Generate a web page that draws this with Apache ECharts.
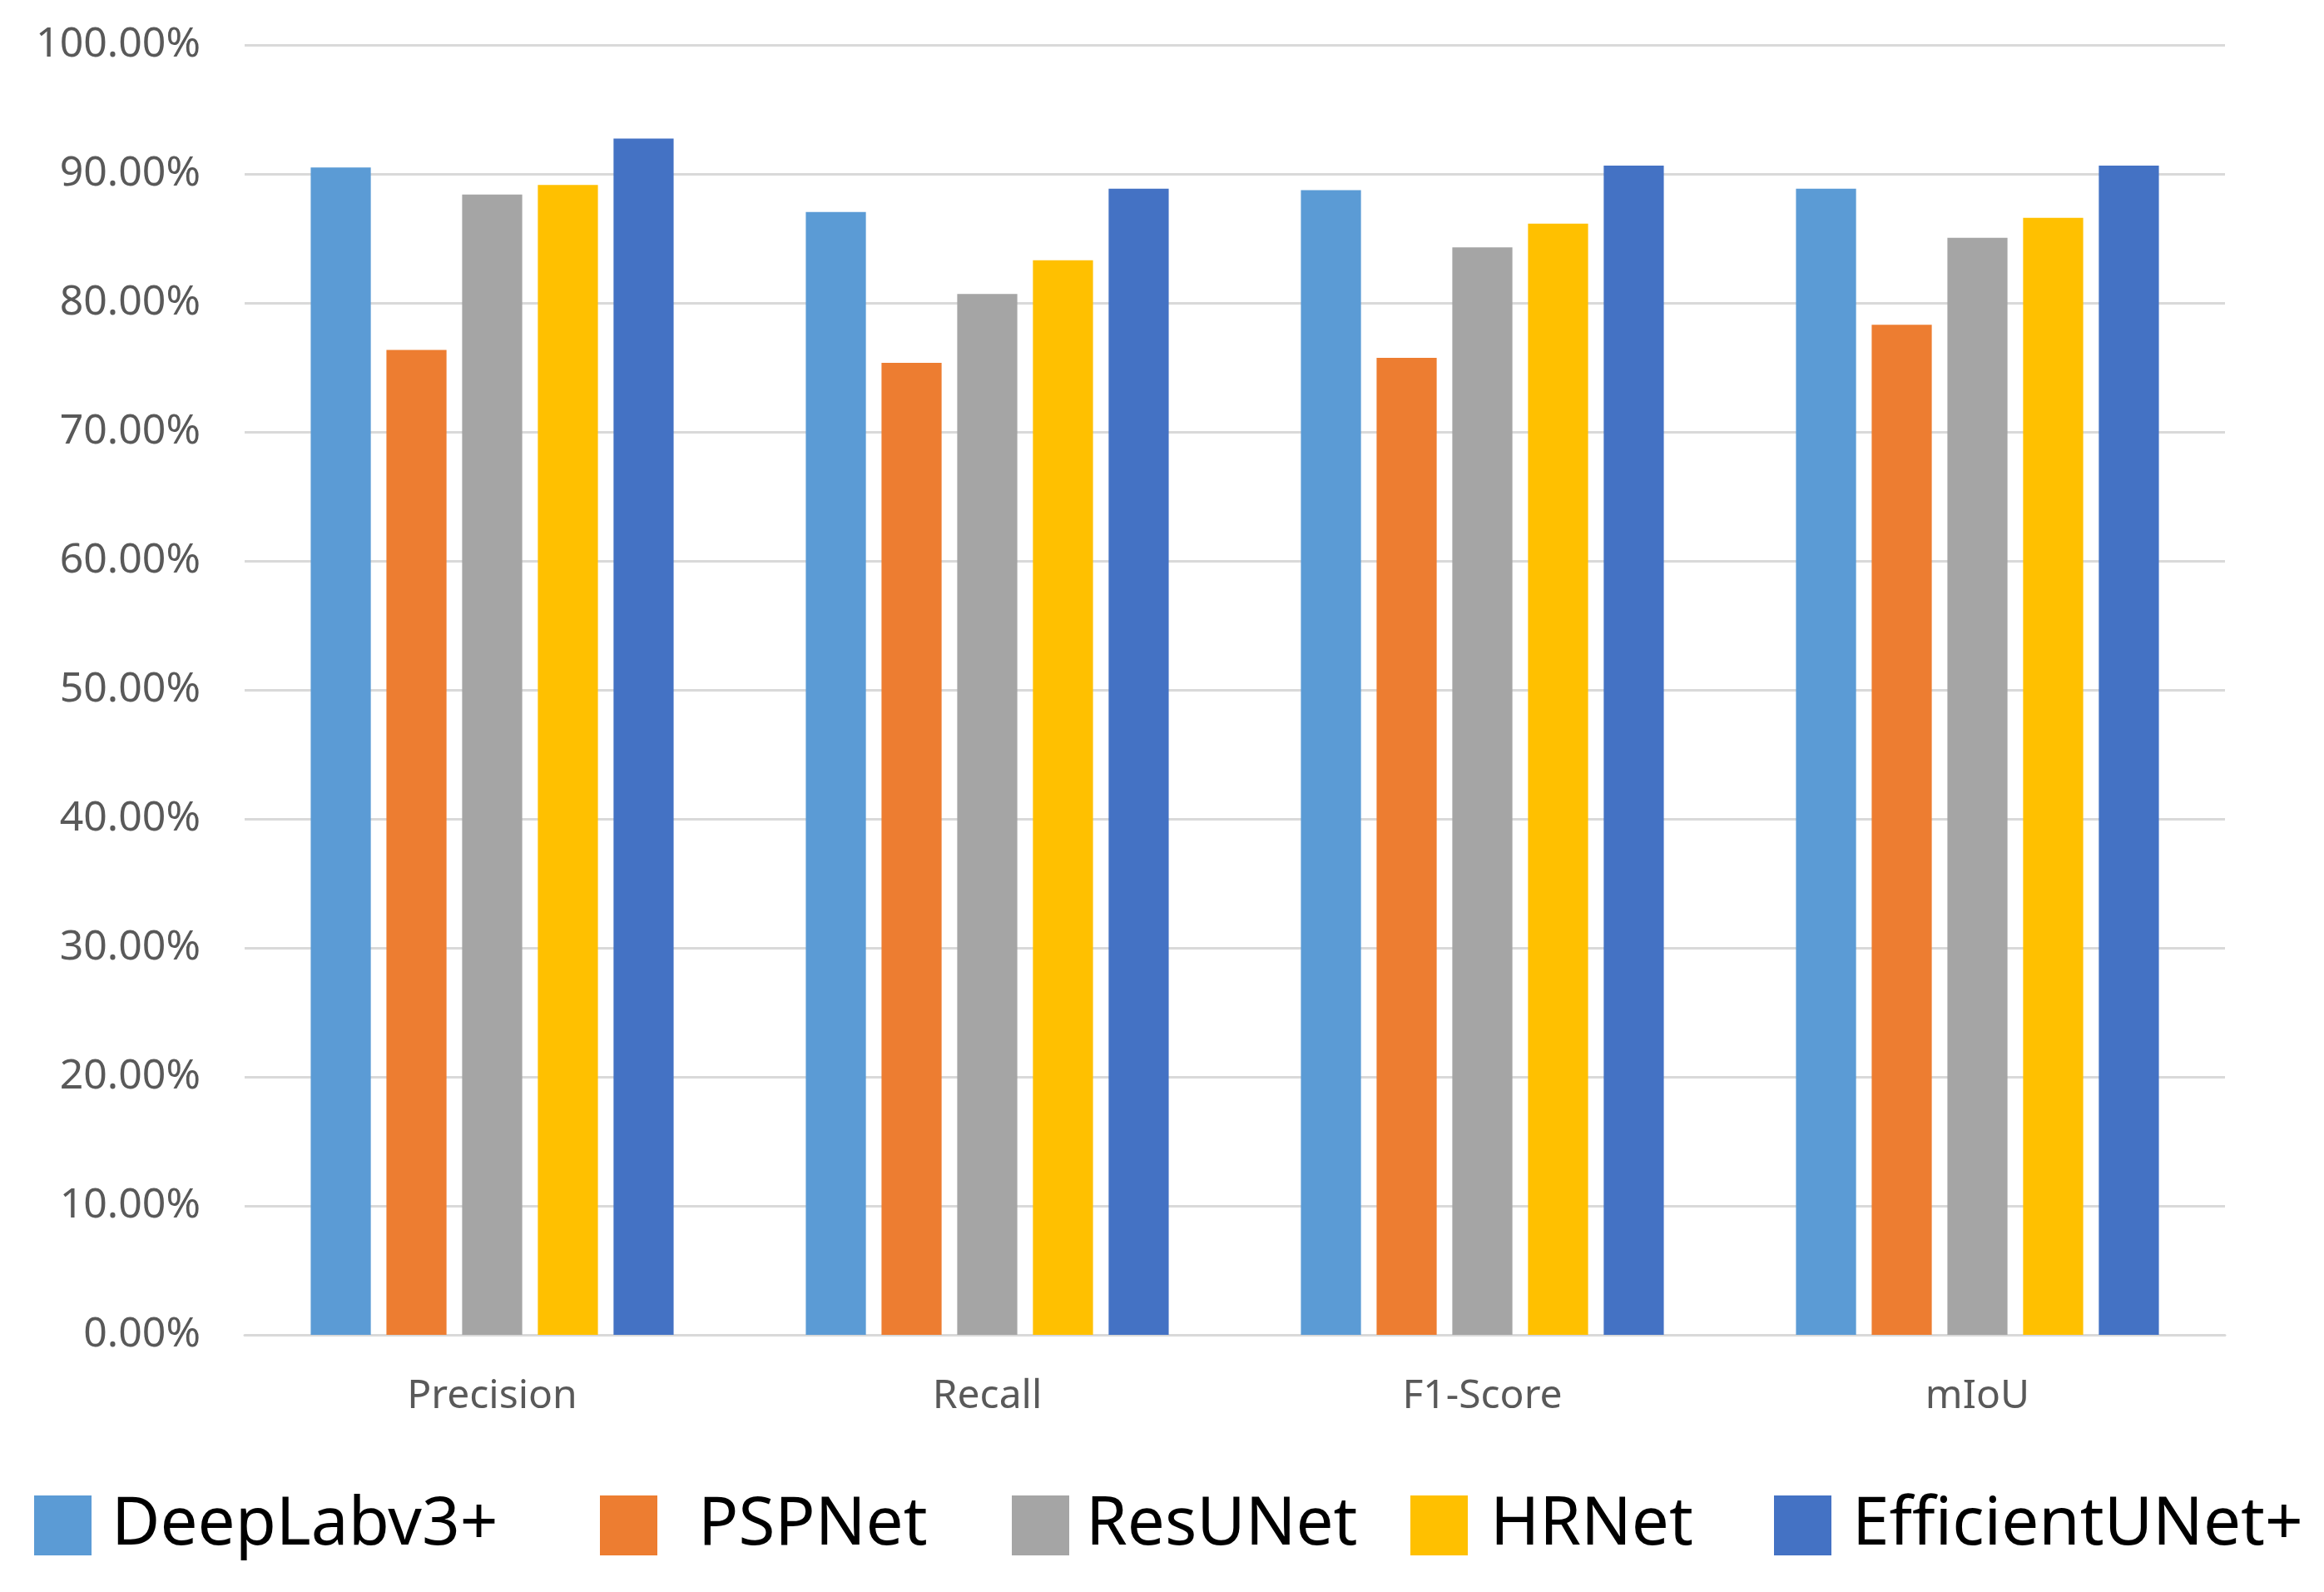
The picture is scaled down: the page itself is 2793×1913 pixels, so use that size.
<!DOCTYPE html>
<html>
<head>
<meta charset="utf-8">
<script src="https://cdn.jsdelivr.net/npm/echarts@6/dist/echarts.min.js"></script>
<style>
html,body{margin:0;padding:0;background:#fff;}
#chart{width:2793px;height:1913px;}
</style>
</head>
<body>
<div id="chart"></div>
<script>
const categories = ['Precision', 'Recall', 'F1-Score', 'mIoU'];
const seriesNames = ['DeepLabv3+', 'PSPNet', 'ResUNet', 'HRNet', 'EfficientUNet+'];
const deeplabv3 = [90.5, 87.05, 88.75, 88.85];
const pspnet = [76.35, 75.35, 75.75, 78.3];
const resunet = [88.4, 80.7, 84.3, 85.05];
const hrnet = [89.15, 83.3, 86.15, 86.6];
const efficientunet = [92.75, 88.85, 90.65, 90.65];
const yTicks = [0, 10, 20, 30, 40, 50, 60, 70, 80, 90, 100];

const colors = ['#5B9BD5', '#ED7D31', '#A5A5A5', '#FFC000', '#4472C4'];
const values = [deeplabv3, pspnet, resunet, hrnet, efficientunet];

const legendLeft = [41, 721, 1216, 1695, 2132];
const legendPad = [19, 44, 15, 22, 20];

const chart = echarts.init(document.getElementById('chart'), null, {renderer: 'canvas'});
const option = {
  animation: false,
  backgroundColor: '#ffffff',
  color: colors,
  grid: {left: 294, right: 119, top: 54, bottom: 309, containLabel: false},
  legend: seriesNames.map((n, i) => ({
    data: [n],
    left: legendLeft[i],
    top: 1793,
    padding: 0,
    icon: 'rect',
    itemWidth: 69,
    itemHeight: 72,
    textStyle: {
      fontFamily: 'Noto Sans',
      fontSize: 80,
      color: '#000000',
      lineHeight: 72,
      padding: [0, 0, 0, legendPad[i]]
    }
  })),
  xAxis: {
    type: 'category',
    data: categories,
    axisLine: {show: true, lineStyle: {color: '#d9d9d9', width: 3}},
    axisTick: {show: false},
    axisLabel: {
      fontFamily: 'Noto Sans',
      fontSize: 48,
      color: '#595959',
      margin: 50,
      lineHeight: 48
    }
  },
  yAxis: {
    type: 'value',
    min: 0,
    max: 100,
    interval: 10,
    axisLine: {show: false},
    axisTick: {show: false},
    splitLine: {lineStyle: {color: '#d9d9d9', width: 3}},
    axisLabel: {
      fontFamily: 'Noto Sans',
      fontSize: 50,
      color: '#595959',
      margin: 53,
      formatter: v => yTicks.includes(v) ? v.toFixed(2) + '%' : ''
    }
  },
  series: seriesNames.map((n, i) => ({
    name: n,
    type: 'bar',
    data: values[i],
    barGap: '26%',
    barCategoryGap: '26.7%',
    itemStyle: {color: colors[i]}
  }))
};
chart.setOption(option);
</script>
</body>
</html>
